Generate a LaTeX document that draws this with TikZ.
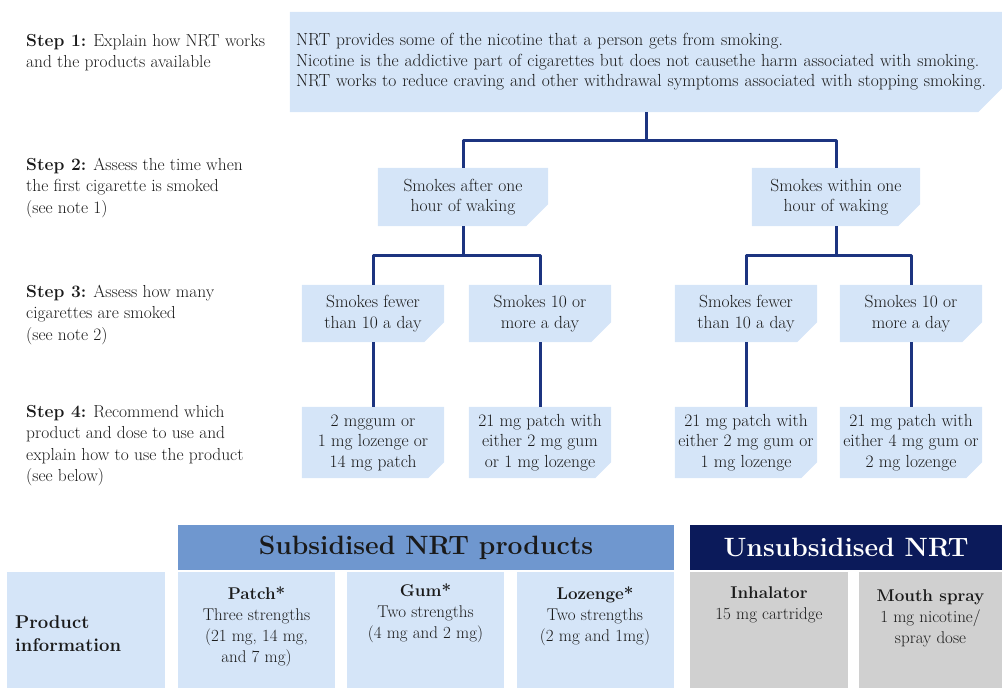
\documentclass[tikz,border=0pt]{standalone}
\usepackage{tikz}
\usetikzlibrary{positioning, backgrounds}
\definecolor{boxblue}{HTML}{D5E5F8}
\definecolor{linenavy}{HTML}{1C3480}
\definecolor{headblue}{HTML}{6F97CF}
\definecolor{headnavy}{HTML}{0B1A5A}
\definecolor{cellgrey}{HTML}{D0D0D0}
\definecolor{inkgrey}{HTML}{1A1A1A}
\newcommand{\boxfont}{\fontsize{17.5}{20.5}\selectfont}
\newcommand{\stepfont}{\fontsize{17.4}{21.4}\selectfont}
\newcommand{\cellfont}{\fontsize{17}{21}\selectfont}
\newcommand{\headfont}{\fontsize{26.5}{30}\selectfont\bfseries}
% blue box with its lower right corner cut off
\newcommand{\snipfill}[2][24]{%
  \fill[boxblue] (#2.north west) -- (#2.north east) -- ([yshift=#1pt]#2.south east)
    -- ([xshift=-#1pt]#2.south east) -- (#2.south west) -- cycle;}

\begin{document}
\begin{tikzpicture}[x=1pt, y=-1pt,
  box/.style = {inner sep=0pt, align=center, font=\boxfont, text=inkgrey},
  steptext/.style = {anchor=north west, inner sep=0pt, align=left, font=\stepfont, text=inkgrey},
  link/.style = {draw=linenavy, line width=3pt, line join=round},
  cell/.style = {fill=boxblue, minimum width=157pt, minimum height=116pt, inner sep=0pt},
  greycell/.style = {cell, fill=cellgrey},
  celltext/.style = {inner sep=0pt, align=center, font=\cellfont, text=inkgrey}]
\useasboundingbox (0,0) rectangle (1002,688);

% steps on the left
\node[steptext] (s1) at (26,34) {\textbf{Step 1:} Explain how NRT works\\and the products available};
\node[steptext] (s2) at (26,158) {\textbf{Step 2:} Assess the time when\\the first cigarette is smoked\\(see note 1)};
\node[steptext] (s3) at (26,285) {\textbf{Step 3:} Assess how many\\cigarettes are smoked\\(see note 2)};
\node[steptext] (s4) at (26,405) {\textbf{Step 4:} Recommend which\\product and dose to use and\\explain how to use the product\\(see below)};

% flow chart
\node[box, minimum width=712pt, minimum height=100pt, text width=700pt, align=left] (top) at (646,62)
  {NRT provides some of the nicotine that a person gets from smoking.\\
   Nicotine is the addictive part of cigarettes but does not causethe harm associated with smoking.\\
   NRT works to reduce craving and other withdrawal symptoms associated with stopping smoking.};

\node[box, minimum width=170pt, minimum height=58pt] (after) at (463,197) {Smokes after one\\hour of waking};
\node[box, minimum width=168pt, minimum height=58pt] (within) at (836,197) {Smokes within one\\hour of waking};

\node[box, minimum width=142pt, minimum height=57pt] (a1) at (373,313.5) {Smokes fewer\\than 10 a day};
\node[box, minimum width=142pt, minimum height=57pt] (a2) at (540,313.5) {Smokes 10 or\\more a day};
\node[box, minimum width=142pt, minimum height=57pt] (b1) at (746,313.5) {Smokes fewer\\than 10 a day};
\node[box, minimum width=142pt, minimum height=57pt] (b2) at (911,313.5) {Smokes 10 or\\more a day};

\node[box, minimum width=142pt, minimum height=71pt] (a1dose) at (373,442.5) {2 mggum or\\1 mg lozenge or\\14 mg patch};
\node[box, minimum width=142pt, minimum height=71pt] (a2dose) at (540,442.5) {21 mg patch with\\either 2 mg gum\\or 1 mg lozenge};
\node[box, minimum width=142pt, minimum height=71pt] (b1dose) at (746,442.5) {21 mg patch with\\either 2 mg gum or\\1 mg lozenge};
\node[box, minimum width=142pt, minimum height=71pt] (b2dose) at (911,442.5) {21 mg patch with\\either 4 mg gum or\\2 mg lozenge};

\begin{scope}[on background layer]
\snipfill{top}
\snipfill[22]{after} \snipfill[22]{within}
\snipfill[20]{a1} \snipfill[20]{a2} \snipfill[20]{b1} \snipfill[20]{b2}
\snipfill[16]{a1dose} \snipfill[16]{a2dose} \snipfill[16]{b1dose} \snipfill[16]{b2dose}
\end{scope}

\draw[link] (top.south) -- ++(0,28) coordinate (j0);
\draw[link] (after.north) |- (j0) -| (within.north);
\draw[link] (after.south) -- ++(0,29) coordinate (ja);
\draw[link] (a1.north) |- (ja) -| (a2.north);
\draw[link] (within.south) -- ++(0,29) coordinate (jb);
\draw[link] (b1.north) |- (jb) -| (b2.north);
\draw[link] (a1.south) -- (a1dose.north);
\draw[link] (a2.south) -- (a2dose.north);
\draw[link] (b1.south) -- (b1dose.north);
\draw[link] (b2.south) -- (b2dose.north);

% product table
\node[fill=headblue, minimum width=496pt, minimum height=45pt, inner sep=0pt, font=\headfont, text=inkgrey] (subs) at (426,547.5) {Subsidised NRT products};
\node[fill=headnavy, minimum width=312pt, minimum height=45pt, inner sep=0pt, font=\headfont, text=white] (unsubs) at (846,547.5) {Unsubsidised NRT};

\node[cell, minimum width=158pt] (info) at (86,630) {};
\node[cell] (patch) at (256.5,630) {};
\node[cell] (gum) at (425.5,630) {};
\node[cell] (lozenge) at (595,630) {};
\node[greycell, minimum width=158pt] (inhal) at (769,630) {};
\node[greycell, minimum width=143pt] (spray) at (930.5,630) {};

\node[anchor=west, inner sep=0pt, align=left, font=\fontsize{18.5}{23}\selectfont\bfseries, text=inkgrey] at (15,634) {Product\\information};
\node[celltext, below=15pt of patch.north] {\textbf{Patch*}\\Three strengths\\(21 mg, 14 mg,\\and 7 mg)};
\node[celltext, below=12pt of gum.north] {\textbf{Gum*}\\Two strengths\\(4 mg and 2 mg)};
\node[celltext, below=15pt of lozenge.north] {\textbf{Lozenge*}\\Two strengths\\(2 mg and 1mg)};
\node[celltext, below=15pt of inhal.north] {\textbf{Inhalator}\\15 mg cartridge};
\node[celltext, below=18pt of spray.north] {\textbf{Mouth spray}\\1 mg nicotine/\\spray dose};
\end{tikzpicture}
\end{document}
